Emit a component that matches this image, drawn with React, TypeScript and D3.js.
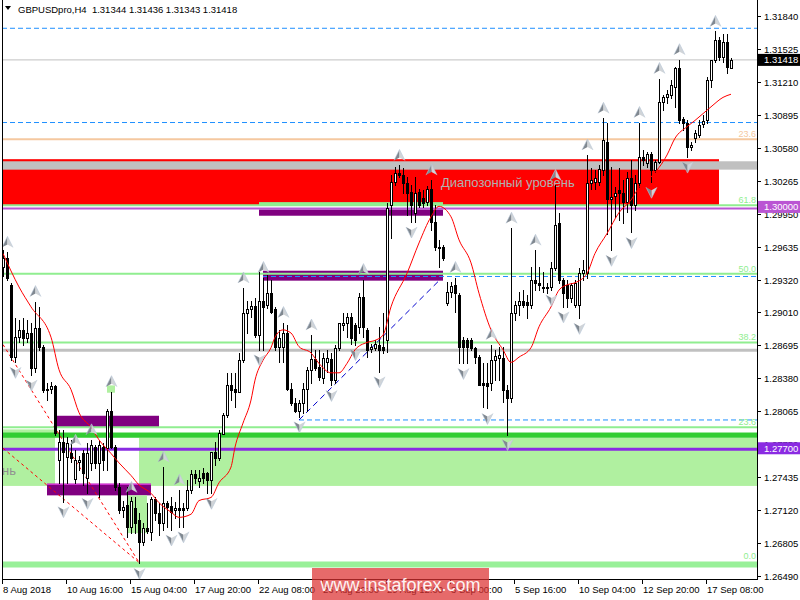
import React from "react";
import * as d3 from "d3";

// GBPUSD, 4-hour bars, 8 Aug 2018 – 18 Sep 2018
const symbol = "GBPUSDpro,H4";
const quote = ["1.31344", "1.31436", "1.31343", "1.31418"];
const lastPrice = 1.31418;

// [open, high, low, close]
const candles: number[][] = [
  [1.2944, 1.296, 1.2935, 1.2953], [1.2953, 1.2958, 1.2932, 1.2934], [1.2927, 1.2929, 1.2855, 1.2858], [1.2858, 1.2895, 1.2853, 1.2877],
  [1.2877, 1.2893, 1.2872, 1.2884], [1.2884, 1.2895, 1.287, 1.2876], [1.2876, 1.2893, 1.2872, 1.2881], [1.2881, 1.2891, 1.2841, 1.2848],
  [1.2848, 1.2911, 1.2844, 1.2886], [1.2886, 1.2906, 1.2865, 1.2868], [1.2868, 1.287, 1.2825, 1.2827], [1.2827, 1.2833, 1.2817, 1.2828],
  [1.2828, 1.2834, 1.2824, 1.283], [1.283, 1.2831, 1.2784, 1.2786], [1.276, 1.2788, 1.2738, 1.2777], [1.2777, 1.2788, 1.272, 1.2767],
  [1.2763, 1.2782, 1.2738, 1.2776], [1.2766, 1.2779, 1.2758, 1.2762], [1.2742, 1.2769, 1.2738, 1.276], [1.2758, 1.2764, 1.275, 1.276],
  [1.2766, 1.2769, 1.2736, 1.2747], [1.2743, 1.2776, 1.2728, 1.2766], [1.2757, 1.2779, 1.275, 1.2774], [1.2772, 1.2774, 1.2752, 1.2757],
  [1.2757, 1.2779, 1.2724, 1.2774], [1.2772, 1.2776, 1.275, 1.276], [1.2771, 1.2808, 1.275, 1.2807], [1.2807, 1.2825, 1.2771, 1.2772],
  [1.2772, 1.2774, 1.2731, 1.2734], [1.2734, 1.2738, 1.2709, 1.2712], [1.2712, 1.2721, 1.2705, 1.2715], [1.2717, 1.2734, 1.2686, 1.2696],
  [1.2696, 1.2724, 1.269, 1.2721], [1.2714, 1.2724, 1.269, 1.27], [1.2702, 1.2709, 1.2661, 1.2681], [1.2681, 1.27, 1.2679, 1.2695],
  [1.2695, 1.2719, 1.269, 1.2692], [1.2691, 1.2724, 1.2683, 1.2723], [1.2723, 1.2724, 1.2702, 1.2709], [1.2709, 1.2719, 1.2688, 1.27],
  [1.27, 1.2753, 1.2693, 1.2719], [1.2719, 1.2721, 1.2696, 1.2715], [1.2716, 1.2724, 1.2693, 1.271], [1.2712, 1.272, 1.2704, 1.2714],
  [1.2714, 1.2731, 1.2696, 1.2712], [1.2714, 1.2719, 1.2696, 1.2712], [1.2714, 1.2741, 1.2712, 1.2731], [1.2731, 1.275, 1.2728, 1.2746],
  [1.2746, 1.275, 1.2738, 1.2743], [1.274, 1.275, 1.2734, 1.2743], [1.2747, 1.2752, 1.2738, 1.2743], [1.2747, 1.2748, 1.2728, 1.2741],
  [1.2741, 1.2767, 1.2728, 1.2767], [1.2767, 1.2777, 1.2755, 1.2762], [1.2762, 1.2788, 1.276, 1.2786], [1.2785, 1.2805, 1.2785, 1.2803],
  [1.2803, 1.2843, 1.2801, 1.2831], [1.2831, 1.2843, 1.2817, 1.2827], [1.2828, 1.2843, 1.281, 1.2825], [1.2825, 1.2862, 1.2825, 1.2855],
  [1.2855, 1.2924, 1.2853, 1.29], [1.29, 1.2912, 1.2881, 1.2904], [1.2904, 1.2912, 1.2896, 1.2907], [1.2907, 1.2914, 1.2877, 1.2879],
  [1.2879, 1.2939, 1.2865, 1.2912], [1.2912, 1.2934, 1.2865, 1.2906], [1.2908, 1.2936, 1.2905, 1.2919], [1.2919, 1.2932, 1.29, 1.2901],
  [1.2904, 1.2906, 1.2865, 1.2868], [1.2868, 1.2884, 1.2853, 1.2876], [1.2868, 1.2891, 1.2853, 1.2881], [1.2881, 1.2889, 1.2827, 1.2828],
  [1.2828, 1.2833, 1.2812, 1.2814], [1.2814, 1.2819, 1.2806, 1.2807], [1.2807, 1.2817, 1.2801, 1.2814], [1.2814, 1.2833, 1.2805, 1.2828],
  [1.2828, 1.2849, 1.2807, 1.2846], [1.2846, 1.2879, 1.2833, 1.2856], [1.2856, 1.2865, 1.2846, 1.2848], [1.2849, 1.2865, 1.2836, 1.2839],
  [1.2838, 1.2862, 1.2833, 1.2857], [1.2853, 1.2865, 1.2844, 1.2857], [1.2856, 1.2862, 1.2831, 1.2836], [1.2836, 1.287, 1.2833, 1.2867],
  [1.2867, 1.2891, 1.2865, 1.2891], [1.2889, 1.29, 1.2884, 1.2891], [1.2891, 1.29, 1.2877, 1.2896], [1.2896, 1.29, 1.2871, 1.2876],
  [1.2889, 1.2891, 1.287, 1.2874], [1.2887, 1.2919, 1.2881, 1.2915], [1.2915, 1.2932, 1.2877, 1.2887], [1.2884, 1.2886, 1.2858, 1.2865],
  [1.2866, 1.2871, 1.2863, 1.2868], [1.2867, 1.2874, 1.2865, 1.2871], [1.287, 1.2887, 1.2844, 1.2865], [1.2868, 1.29, 1.2862, 1.2865],
  [1.2874, 1.3005, 1.2863, 1.3], [1.3003, 1.3032, 1.2972, 1.3025], [1.3025, 1.304, 1.3022, 1.3034], [1.3034, 1.3041, 1.303, 1.3032],
  [1.3032, 1.3039, 1.3015, 1.3024], [1.3024, 1.303, 1.2994, 1.3015], [1.3016, 1.3022, 1.2987, 1.3003], [1.2996, 1.303, 1.2987, 1.3015],
  [1.3016, 1.3019, 1.3001, 1.3003], [1.301, 1.3018, 1.3001, 1.3005], [1.3006, 1.3021, 1.3003, 1.3019], [1.3019, 1.3027, 1.2979, 1.2987],
  [1.2987, 1.3003, 1.296, 1.2963], [1.2963, 1.297, 1.2944, 1.2962], [1.2963, 1.2965, 1.2951, 1.2953], [1.291, 1.293, 1.2908, 1.292],
  [1.292, 1.293, 1.2915, 1.2926], [1.2927, 1.2934, 1.2901, 1.2919], [1.2917, 1.2919, 1.2852, 1.2868], [1.2874, 1.2877, 1.2852, 1.2868],
  [1.2874, 1.2876, 1.2852, 1.2868], [1.2874, 1.2876, 1.2865, 1.2867], [1.2867, 1.2868, 1.2852, 1.2858], [1.2858, 1.286, 1.2831, 1.2831],
  [1.2833, 1.2852, 1.281, 1.2831], [1.2833, 1.2852, 1.2809, 1.283], [1.2833, 1.287, 1.2827, 1.2855], [1.2855, 1.2865, 1.2836, 1.2859],
  [1.2857, 1.2868, 1.2836, 1.286], [1.2857, 1.2868, 1.2815, 1.2827], [1.2827, 1.2831, 1.2784, 1.2819], [1.2819, 1.2981, 1.2815, 1.29],
  [1.29, 1.2912, 1.2893, 1.2908], [1.2908, 1.292, 1.2898, 1.2912], [1.2912, 1.2922, 1.2906, 1.2908], [1.2911, 1.2917, 1.2895, 1.2908],
  [1.2908, 1.2944, 1.2905, 1.2932], [1.2932, 1.296, 1.2922, 1.2929], [1.2929, 1.2944, 1.2922, 1.2927], [1.2925, 1.2939, 1.292, 1.2924],
  [1.2924, 1.2929, 1.2919, 1.2925], [1.2925, 1.2949, 1.2922, 1.2943], [1.2943, 1.3022, 1.2941, 1.2984], [1.2986, 1.2996, 1.2929, 1.2932],
  [1.2932, 1.2934, 1.2906, 1.2919], [1.2927, 1.2932, 1.2906, 1.2914], [1.2914, 1.2929, 1.2911, 1.2927], [1.2908, 1.2932, 1.2906, 1.2929],
  [1.2908, 1.2943, 1.2895, 1.2938], [1.2938, 1.2951, 1.2932, 1.2941], [1.2938, 1.3051, 1.2934, 1.3024], [1.3024, 1.3039, 1.3019, 1.3027],
  [1.3025, 1.3037, 1.3019, 1.3029], [1.3025, 1.3041, 1.3022, 1.3038], [1.3037, 1.3086, 1.3032, 1.3065], [1.3063, 1.3082, 1.2976, 1.3009],
  [1.3009, 1.304, 1.296, 1.3011], [1.3012, 1.302, 1.2992, 1.3015], [1.3018, 1.3039, 1.2989, 1.3015], [1.3015, 1.3027, 1.2986, 1.3006],
  [1.3006, 1.3035, 1.2997, 1.3029], [1.3029, 1.3046, 1.2977, 1.3003], [1.3003, 1.3032, 1.2998, 1.3024], [1.3024, 1.3082, 1.302, 1.3049],
  [1.3049, 1.3056, 1.3041, 1.3046], [1.3043, 1.3054, 1.304, 1.3052], [1.3052, 1.3054, 1.3025, 1.3037], [1.3037, 1.3046, 1.3035, 1.3044],
  [1.3044, 1.3124, 1.3043, 1.3102], [1.3102, 1.3108, 1.3094, 1.3106], [1.3106, 1.3113, 1.3101, 1.3109], [1.3108, 1.3123, 1.3105, 1.3118],
  [1.3116, 1.3135, 1.3097, 1.3134], [1.3134, 1.3142, 1.3082, 1.3084], [1.3085, 1.3087, 1.3075, 1.3082], [1.3082, 1.3084, 1.3049, 1.3059],
  [1.3059, 1.3063, 1.3056, 1.3061], [1.3067, 1.3075, 1.3063, 1.3072], [1.307, 1.3084, 1.3068, 1.308], [1.3081, 1.3089, 1.3078, 1.3083],
  [1.3084, 1.3125, 1.3082, 1.3123], [1.3123, 1.3142, 1.3116, 1.3142], [1.3142, 1.3169, 1.314, 1.3161], [1.3161, 1.3164, 1.3142, 1.3145],
  [1.3145, 1.3167, 1.314, 1.3159], [1.3159, 1.3167, 1.3129, 1.3135], [1.31344, 1.31436, 1.31343, 1.31418],
];

// Moving average (bar index, value)
const maIndex = [0, 4, 7, 12, 14, 17, 19, 22, 24, 27, 29, 32, 34, 37, 39, 42, 44, 47, 49, 52, 54, 57, 58, 60, 62, 63, 65, 67, 68, 70, 72, 74, 77, 79, 82, 84, 86, 88, 91, 93, 95, 97, 101, 104, 107, 109, 112, 114, 117, 119, 122, 125, 127, 129, 132, 134, 137, 139, 141, 143, 146, 148, 151, 154, 157, 159, 162, 166, 168, 171, 173, 177, 180, 182];
const maValue = [1.2957, 1.2925, 1.2906, 1.2877, 1.2846, 1.2827, 1.2805, 1.2791, 1.2779, 1.2766, 1.2757, 1.2745, 1.2736, 1.2728, 1.2719, 1.271, 1.2705, 1.2708, 1.2721, 1.2724, 1.2738, 1.2753, 1.2772, 1.2795, 1.2817, 1.2836, 1.2855, 1.2867, 1.2877, 1.2884, 1.2881, 1.2868, 1.2862, 1.2852, 1.2843, 1.2843, 1.2852, 1.2865, 1.2872, 1.2874, 1.2879, 1.2906, 1.2938, 1.2967, 1.2992, 1.3002, 1.2992, 1.297, 1.2948, 1.2919, 1.2884, 1.2865, 1.2853, 1.2858, 1.2867, 1.2887, 1.2906, 1.2922, 1.2927, 1.2929, 1.2938, 1.2957, 1.2976, 1.2996, 1.3008, 1.302, 1.303, 1.3051, 1.3067, 1.3078, 1.3084, 1.3097, 1.3106, 1.3109];

// Fractal bars
const fractalUp = [1, 8, 18, 22, 27, 32, 40, 44, 60, 65, 70, 77, 90, 99, 107, 113, 122, 127, 133, 138, 146, 150, 159, 164, 169, 178];
const fractalDown = [3, 7, 15, 21, 34, 42, 45, 52, 64, 74, 82, 88, 94, 102, 115, 121, 126, 137, 140, 144, 152, 157, 162, 171];

// Price scale and time scale labels
const priceTicks = ["1.31840", "1.31525", "1.31210", "1.30895", "1.30580", "1.30265", "1.29950", "1.29635", "1.29320", "1.29010", "1.28695", "1.28380", "1.28065", "1.27750", "1.27435", "1.27120", "1.26805", "1.26490"];
const timeTickIndex = [0, 16, 32, 48, 64, 80, 96, 112, 128, 144, 160, 176];
const timeTickLabel = ["8 Aug 2018", "10 Aug 16:00", "15 Aug 04:00", "17 Aug 20:00", "22 Aug 08:00", "26 Aug 20:00", "29 Aug 12:00", "3 Sep 00:00", "5 Sep 16:00", "10 Sep 04:00", "12 Sep 20:00", "17 Sep 08:00"];

// Fibonacci retracement (anchors and levels)
const fibLow = 1.266;
const fibHigh = 1.3215;
const fibLevels = [0, 23.6, 38.2, 50, 61.8];
const upperFibPrice = 1.3066;
const upperFibLabel = "23.6";

// Horizontal levels
const levelMain = 1.3;
const levelSupport = 1.277;
const dashedHigh = [1.3172, 1.3082];
const dashedMid = 1.2935;
const dashedMidStart = 65;
const dashedLow = 1.2798;
const dashedLowStart = 74;
const grayUpper = [1.3045, 1.3037];
const grayLower = 1.28645;

// Range zone
const rangeTop = 1.3047;
const rangeBottom = 1.3003;
const rangeEnd = 179;
const rangeText = "Диапозонный уровень";

// Support zone
const supportZoneA = [1.2789, 1.2735];
const supportZoneAEnd = 13;
const supportZoneB = [1.2781, 1.2735];
const supportZoneBStart = 34;
const supportBand = [1.2786, 1.2781];

// Order blocks [startBar, endBar, top, bottom]
const blockUpperLight = [64, 110, 1.3006, 1.3003];
const blockUpper = [64, 110, 1.2999, 1.2993];
const blockMid = [65, 110, 1.29405, 1.2931];
const blockLowA = [13, 39, 1.2802, 1.2791];
const blockLowB = [11, 37, 1.2737, 1.2726];
const boxSmallA = [31, 36, 1.2726, 1.269];
const boxSmallB = [26, 28, 1.2831, 1.2824];

// Trend lines [bar, price] → [bar, price]
const trendRedA = [0, 1.287, 34, 1.2662];
const trendRedB = [0, 1.2771, 34, 1.2662];
const trendBlue = [74, 1.2798, 109, 1.2931];

const FONT = "'Liberation Sans', Arial, sans-serif";

function Arrow({ cx, cy, up }: { cx: number; cy: number; up: boolean }) {
  const s = up ? 1 : -1;
  const left = `M${cx},${cy - 6 * s} L${cx},${cy + 2 * s} L${cx - 5.5},${cy + 5 * s} Z`;
  const right = `M${cx},${cy - 6 * s} L${cx + 5.5},${cy + 5 * s} L${cx},${cy + 2 * s} Z`;
  return (
    <g>
      <path d={left} fill="#808890" />
      <path d={right} fill="#d0d4d8" />
      <path d={`M${cx - 5.5},${cy + 5 * s} L${cx},${cy - 6 * s} L${cx + 5.5},${cy + 5 * s}`} fill="none" stroke="#b8c8d8" strokeWidth={0.6} />
    </g>
  );
}

export default function App() {
  const L = 2;
  const R = 757;
  const B = 579;
  const xs = d3.scaleLinear().domain([0, 182]).range([3, 731]);
  const ys = d3.scaleLinear().domain([1.2649, 1.3184]).range([576, 15.7]);
  const X = (i: number) => Math.round(xs(i));
  const Y = (p: number) => ys(p);

  const rect = (b: number[], fill: string, key: string) => (
    <rect key={key} x={X(b[0])} y={Y(b[2])} width={X(b[1]) - X(b[0])} height={Y(b[3]) - Y(b[2])} fill={fill} />
  );
  const hline = (p: number, stroke: string, w: number, x1 = L, x2 = R, dash?: string) => (
    <line x1={x1} x2={x2} y1={Y(p)} y2={Y(p)} stroke={stroke} strokeWidth={w} strokeDasharray={dash} />
  );

  const maLine = d3
    .line<number>()
    .x((_, k) => xs(maIndex[k]))
    .y((v) => Y(v))
    .curve(d3.curveMonotoneX)(maValue);

  const fibPrice = (lvl: number) => fibLow + ((fibHigh - fibLow) * lvl) / 100;

  return (
    <svg width={800} height={600} style={{ position: "absolute", left: 0, top: 0, display: "block" }} fontFamily={FONT}>
      <defs>
        <clipPath id="plot">
          <rect x={L + 1} y={0} width={R - L - 1} height={B} />
        </clipPath>
      </defs>
      <rect x={0} y={0} width={800} height={600} fill="#fff" />

      <g clipPath="url(#plot)">
        {/* support zone */}
        <rect x={L} y={Y(supportZoneA[0])} width={X(supportZoneAEnd) - L} height={Y(supportZoneA[1]) - Y(supportZoneA[0])} fill="#b0f0a0" />
        <rect x={X(supportZoneBStart)} y={Y(supportZoneB[0])} width={R - X(supportZoneBStart)} height={Y(supportZoneB[1]) - Y(supportZoneB[0])} fill="#b0f0a0" />
        <rect x={L} y={Y(supportBand[0])} width={R - L} height={Y(supportBand[1]) - Y(supportBand[0])} fill="#32cd32" />
        <text x={16} y={475} textAnchor="end" fontSize={13} fill="#909090">{rangeText}</text>

        {/* range zone */}
        <rect x={L} y={Y(rangeTop)} width={X(rangeEnd) - L} height={Y(rangeBottom) - Y(rangeTop)} fill="#ff0000" />
        <rect x={L} y={Y(grayUpper[0])} width={R - L} height={Y(grayUpper[1]) - Y(grayUpper[0])} fill="#c0c0c0" />
        <text x={441} y={187} fontSize={13} fill="#b0b0b0">{rangeText}</text>

        {/* blocks */}
        {rect(blockUpperLight, "#90ee90", "bul")}
        {rect(blockUpper, "#800080", "bu")}
        {rect(blockMid, "#800080", "bm")}
        {rect(blockLowA, "#800080", "bla")}
        {rect(blockLowB, "#800080", "blb")}
        <line x1={X(blockLowB[0])} x2={X(blockLowB[1])} y1={Y(blockLowB[2]) + 0.5} y2={Y(blockLowB[2]) + 0.5} stroke="#d030d0" strokeWidth={1.5} />
        {rect(boxSmallA, "#b0f0a0", "bsa")}
        {rect(boxSmallB, "#b0f0a0", "bsb")}

        {/* levels */}
        {dashedHigh.map((p, k) => <g key={"dh" + k}>{hline(p, "#1e90ff", 1, L, R, "5,3")}</g>)}
        {hline(lastPrice, "#c0c0c0", 1)}
        {hline(upperFibPrice, "#f5c8a0", 2)}
        {fibLevels.map((lvl) => (
          <g key={"fib" + lvl}>{hline(fibPrice(lvl), lvl === 0 ? "#98f098" : "#90ee90", lvl === 0 ? 6 : 2)}</g>
        ))}
        {hline(dashedMid, "#1e90ff", 1, X(dashedMidStart), R, "5,3")}
        {hline(dashedLow, "#1e90ff", 1, X(dashedLowStart), R, "5,3")}
        {hline(grayLower, "#c0c0c0", 3)}
        {hline(levelMain, "#ba55d3", 2)}
        {hline(levelSupport, "#8a2be2", 3)}

        {/* fib labels */}
        <text x={756} y={Y(upperFibPrice) - 2} textAnchor="end" fontSize={9} fill="#f5c8a0">{upperFibLabel}</text>
        {fibLevels.map((lvl) => (
          <text key={"fl" + lvl} x={756} y={Y(fibPrice(lvl)) - (lvl === 0 ? 5 : 2)} textAnchor="end" fontSize={9} fill="#90ee90">
            {lvl.toFixed(1)}
          </text>
        ))}

        {/* trend lines */}
        <line x1={xs(trendRedA[0])} y1={Y(trendRedA[1])} x2={xs(trendRedA[2])} y2={Y(trendRedA[3])} stroke="#ff0000" strokeDasharray="3,3" />
        <line x1={xs(trendRedB[0])} y1={Y(trendRedB[1])} x2={xs(trendRedB[2])} y2={Y(trendRedB[3])} stroke="#ff0000" strokeDasharray="3,3" />
        <line x1={xs(trendBlue[0])} y1={Y(trendBlue[1])} x2={xs(trendBlue[2])} y2={Y(trendBlue[3])} stroke="#0000cd" strokeDasharray="6,4" />

        {/* candles */}
        {candles.map(([o, h, l, c], i) => {
          const cx = X(i);
          const yo = Math.round(Y(o));
          const yc = Math.round(Y(c));
          const yh = Math.round(Y(h));
          const yl = Math.round(Y(l));
          const bull = c >= o;
          const top = Math.min(yo, yc);
          const bot = Math.max(yo, yc);
          return (
            <g key={"c" + i}>
              <line x1={cx + 0.5} x2={cx + 0.5} y1={yh} y2={yl + 1} stroke="#000" />
              {bot - top >= 1 ? (
                <rect x={cx - 0.5} y={top + 0.5} width={2} height={bot - top} fill={bull ? "#fff" : "#000"} stroke="#000" />
              ) : (
                <line x1={cx - 1} x2={cx + 2} y1={top + 0.5} y2={top + 0.5} stroke="#000" />
              )}
            </g>
          );
        })}

        {/* moving average */}
        <path d={maLine || ""} fill="none" stroke="#ff0000" strokeWidth={1} />

        {/* fractals */}
        {fractalUp.map((i) => (
          <Arrow key={"fu" + i} cx={X(i) + 0.5} cy={Y(candles[i][1]) - 10} up={true} />
        ))}
        {fractalDown.map((i) => (
          <Arrow key={"fd" + i} cx={X(i) + 0.5} cy={Y(candles[i][2]) + 10} up={false} />
        ))}
      </g>

      {/* frame */}
      <line x1={L + 0.5} x2={L + 0.5} y1={0} y2={B + 1} stroke="#000" />
      <line x1={R + 0.5} x2={R + 0.5} y1={0} y2={B + 1} stroke="#000" />
      <line x1={L} x2={R + 1} y1={B + 0.5} y2={B + 0.5} stroke="#000" />

      {/* price axis */}
      {priceTicks.map((t) => {
        const yy = Math.round(Y(parseFloat(t))) + 0.5;
        return (
          <g key={"pt" + t}>
            <line x1={R} x2={R + 4} y1={yy} y2={yy} stroke="#000" />
            <text x={764} y={yy} dy="0.35em" fontSize={9.5} fill="#000">{t}</text>
          </g>
        );
      })}

      {/* time axis */}
      {timeTickIndex.map((i, k) => (
        <g key={"tt" + i}>
          <line x1={X(i) - 0.5} x2={X(i) - 0.5} y1={B} y2={B + 5} stroke="#000" />
          <text x={X(i)} y={593} fontSize={9.5} fill="#000">{timeTickLabel[k]}</text>
        </g>
      ))}

      {/* price tags */}
      <rect x={R + 1} y={Y(lastPrice) - 6} width={42} height={12} fill="#000" />
      <text x={764} y={Y(lastPrice)} dy="0.35em" fontSize={9.5} fill="#fff">{quote[3]}</text>
      <rect x={R + 1} y={Y(levelMain) - 7.5} width={42} height={12} fill="#ba55d3" />
      <text x={764} y={Y(levelMain) - 1.5} dy="0.35em" fontSize={9.5} fill="#fff">{levelMain.toFixed(5)}</text>
      <rect x={R + 1} y={Y(levelSupport) - 7} width={42} height={12} fill="#8a2be2" />
      <text x={764} y={Y(levelSupport) - 1} dy="0.35em" fontSize={9.5} fill="#fff">{levelSupport.toFixed(5)}</text>

      {/* header */}
      <path d="M5,6 L11,6 L8,10 Z" fill="#000" />
      <text x={18} y={13} fontSize={9.5} fill="#000" style={{ whiteSpace: "pre" }}>
        {`${symbol}  ${quote.join(" ")}`}
      </text>

      {/* watermark */}
      <rect x={312} y={568} width={177} height={32} fill="#dd3030" opacity={0.72} />
      <text x={400.5} y={591} textAnchor="middle" fontSize={18} fill="#fff" opacity={0.92}>www.instaforex.com</text>
    </svg>
  );
}
